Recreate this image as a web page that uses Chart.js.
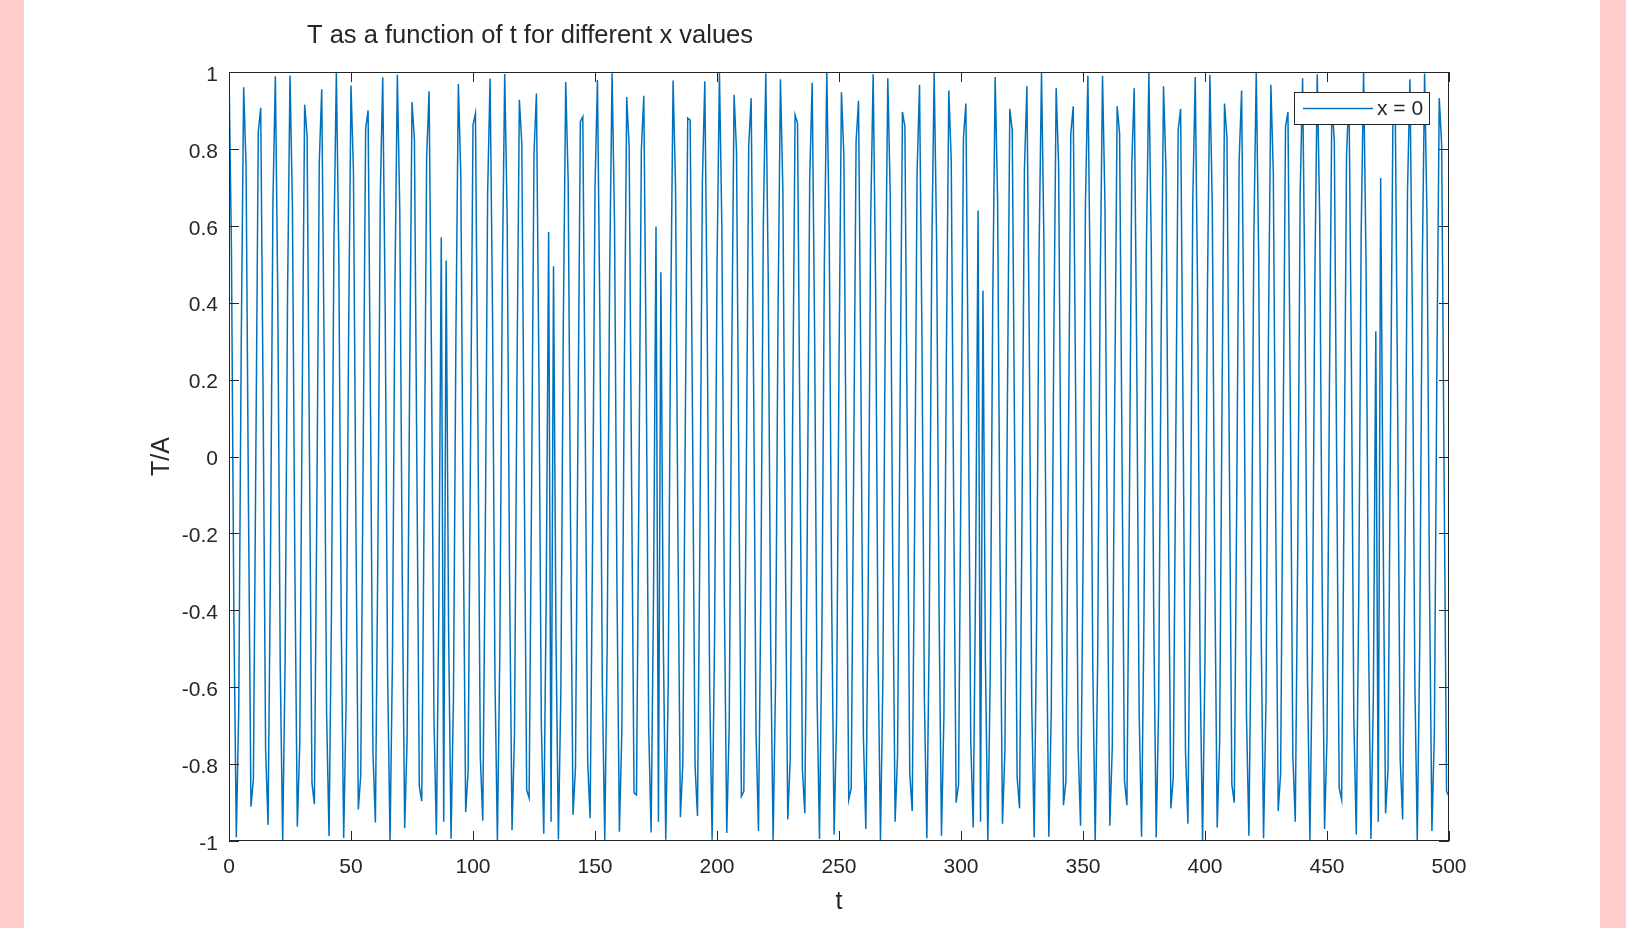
<!DOCTYPE html>
<html>
<head>
<meta charset="utf-8">
<title>T as a function of t for different x values</title>
<script src="https://cdn.jsdelivr.net/npm/chart.js@4"></script>
<style>
  html, body { margin: 0; padding: 0; }
  body { width: 1626px; height: 928px; background: #ffcccc; position: relative; overflow: hidden; }
  #sheet { position: absolute; left: 24px; top: 0; width: 1576px; height: 928px; background: #ffffff; }
  #waveChart { position: absolute; left: 0; top: 0; }
</style>
</head>
<body>
<div id="sheet"></div>
<canvas id="waveChart" width="1626" height="928"></canvas>
<script>
const FONT = '"Liberation Sans", Arial, sans-serif';
const INK = '#262626';

const chartTitle = 'T as a function of t for different x values';
const seriesLabel = 'x = 0';
const xTitle = 't';
const yTitle = 'T/A';

// samples are taken at t = 0, 1, 2, ... 500
const tStart = 0;
const tStep = 1;

const xTicks = [0, 50, 100, 150, 200, 250, 300, 350, 400, 450, 500];
const yTicks = [-1, -0.8, -0.6, -0.4, -0.2, 0, 0.2, 0.4, 0.6, 0.8, 1];
const yTickLabels = ['-1', '-0.8', '-0.6', '-0.4', '-0.2', '0', '0.2', '0.4', '0.6', '0.8', '1'];

// T/A at x = 0, one row per 22 samples
const tempRatio = [
  1, 0.540, -0.416, -0.990, -0.654, 0.284, 0.960, 0.754, -0.146, -0.911, -0.839, 0.004, 0.844, 0.907, 0.137, -0.760, -0.958, -0.275, 0.660, 0.989, 0.408, -0.548,
  -1, -0.533, 0.424, 0.991, 0.647, -0.292, -0.963, -0.748, 0.154, 0.915, 0.834, -0.013, -0.849, -0.904, -0.128, 0.765, 0.955, 0.267, -0.667, -0.987, -0.400, 0.555,
  1, 0.525, -0.432, -0.992, -0.640, 0.301, 0.965, 0.742, -0.163, -0.918, -0.829, 0.022, 0.853, 0.900, 0.119, -0.771, -0.952, -0.258, 0.674, 0.986, 0.392, -0.562,
  -1, -0.518, 0.440, 0.993, 0.633, -0.309, -0.967, -0.736, 0.172, 0.922, 0.824, -0.031, -0.858, -0.896, -0.110, 0.777, 0.950, 0.250, -0.680, -0.984, -0.384, 0.570,
  -0.95, 0.510, -0.448, -0.994, -0.626, 0.317, 0.969, 0.730, -0.180, -0.925, -0.819, 0.040, 0.862, 0.892, 0.102, -0.782, -0.947, -0.241, 0.686, 0.983, 0.376, -0.577,
  -0.999, -0.503, 0.456, 0.995, 0.620, -0.326, -0.972, -0.724, 0.189, 0.928, 0.814, -0.049, -0.867, -0.888, -0.093, 0.788, 0.944, 0.232, -0.693, -0.981, -0.367, 0.584,
  -0.95, 0.495, -0.464, -0.996, -0.613, 0.334, 0.974, 0.718, -0.198, -0.932, -0.809, 0.058, 0.871, 0.884, 0.084, -0.793, -0.941, -0.224, 0.699, 0.979, 0.359, -0.591,
  -0.998, -0.487, 0.472, 0.997, 0.606, -0.342, -0.976, -0.712, 0.206, 0.935, 0.804, -0.066, -0.875, -0.880, -0.075, 0.798, 0.938, 0.215, -0.706, -0.978, -0.351, 0.598,
  -0.95, 0.479, -0.479, -0.997, -0.598, 0.351, 0.978, 0.706, -0.215, -0.938, -0.798, 0.075, 0.880, 0.875, 0.066, -0.804, -0.935, -0.206, 0.712, 0.976, 0.342, -0.606,
  -0.997, -0.472, 0.487, 0.998, 0.591, -0.359, -0.979, -0.699, 0.224, 0.941, 0.793, -0.084, -0.884, -0.871, -0.058, 0.809, 0.932, 0.198, -0.718, -0.974, -0.334, 0.613,
  0.996, 0.464, -0.495, -0.999, -0.584, 0.367, 0.981, 0.693, -0.232, -0.944, -0.788, 0.093, 0.888, 0.867, 0.049, -0.814, -0.928, -0.189, 0.724, 0.972, 0.326, -0.620,
  -0.995, -0.456, 0.503, 0.999, 0.577, -0.376, -0.983, -0.686, 0.241, 0.947, 0.782, -0.102, -0.892, -0.862, -0.040, 0.819, 0.925, 0.180, -0.730, -0.969, -0.317, 0.626,
  0.994, 0.448, -0.510, -0.999, -0.570, 0.384, 0.984, 0.680, -0.250, -0.950, -0.777, 0.110, 0.896, 0.858, 0.031, -0.824, -0.922, -0.172, 0.736, 0.967, 0.309, -0.633,
  -0.993, -0.440, 0.518, 1, 0.562, -0.392, -0.986, -0.673, 0.258, 0.952, 0.771, -0.119, -0.900, -0.853, -0.022, 0.829, 0.918, 0.163, -0.742, -0.965, -0.301, 0.640,
  -0.95, 0.432, -0.525, -1, -0.555, 0.400, 0.987, 0.667, -0.267, -0.955, -0.765, 0.128, 0.904, 0.849, 0.013, -0.834, -0.915, -0.154, 0.748, 0.963, 0.292, -0.647,
  -0.991, -0.424, 0.533, 1, 0.548, -0.408, -0.989, -0.660, 0.275, 0.958, 0.760, -0.137, -0.907, -0.844, -0.004, 0.839, 0.911, 0.145, -0.754, -0.960, -0.284, 0.654,
  0.990, 0.416, -0.540,
  -1, -0.540, 0.416, 0.990, 0.654, -0.284, -0.960, -0.754, 0.146, 0.911, 0.839, -0.004, -0.844, -0.907, -0.137, 0.760, 0.958, 0.275, -0.660, -0.989, -0.408, 0.548,
  1, 0.533, -0.424, -0.991, -0.647, 0.292, 0.963, 0.748, -0.154, -0.915, -0.834, 0.013, 0.849, 0.904, 0.128, -0.765, -0.955, -0.267, 0.667, 0.987, 0.400, -0.555,
  -1, -0.525, 0.432, 0.992, 0.640, -0.301, -0.965, -0.742, 0.163, 0.918, 0.829, -0.022, -0.853, -0.900, -0.119, 0.771, 0.952, 0.258, -0.674, -0.986, -0.392, 0.562,
  1, 0.518, -0.440, -0.993, -0.633, 0.309, 0.967, 0.736, -0.172, -0.922, -0.824, 0.031, 0.858, 0.896, 0.110, -0.777, -0.950, -0.250, 0.680, 0.984, 0.384, -0.570,
  -0.999, -0.510, 0.448, 0.994, 0.626, -0.317, -0.969, -0.730, 0.180, 0.925, 0.819, -0.040, -0.862, -0.892, -0.102, 0.782, 0.947, 0.241, -0.686, -0.983, -0.376, 0.577,
  0.999, 0.503, -0.456, -0.995, -0.620, 0.326, -0.95, 0.724, -0.189, -0.928, -0.814, 0.049, 0.867, 0.888, 0.093, -0.788, -0.944, -0.232, 0.693, 0.981, 0.367, -0.584,
  -0.999, -0.495, 0.464, 0.996, 0.613, -0.334, -0.974, -0.718, 0.198, 0.932, 0.809, -0.058, -0.871, -0.884,
];

// MATLAB-like frame: box, inward ticks on all four sides, title and legend
const matlabFrame = {
  id: 'matlabFrame',
  afterDatasetsDraw(chart) {
    const { ctx, chartArea: a, scales: { x, y } } = chart;
    const ds = chart.data.datasets[0];
    ctx.save();
    ctx.strokeStyle = INK;
    ctx.lineWidth = 1;
    ctx.strokeRect(a.left + 0.5, a.top + 0.5, a.right - a.left - 1, a.bottom - a.top - 1);

    ctx.beginPath();
    xTicks.forEach(v => {
      const px = Math.round(x.getPixelForValue(v)) + 0.5;
      ctx.moveTo(px, a.bottom);
      ctx.lineTo(px, a.bottom - 10);
      ctx.moveTo(px, a.top);
      ctx.lineTo(px, a.top + 10);
    });
    yTicks.forEach(v => {
      const py = Math.round(y.getPixelForValue(v)) + 0.5;
      ctx.moveTo(a.left, py);
      ctx.lineTo(a.left + 10, py);
      ctx.moveTo(a.right, py);
      ctx.lineTo(a.right - 10, py);
    });
    ctx.stroke();

    // title
    ctx.fillStyle = INK;
    ctx.font = '25.5px ' + FONT;
    ctx.textAlign = 'left';
    ctx.textBaseline = 'alphabetic';
    ctx.fillText(chartTitle, 307, 43);

    // legend box
    ctx.fillStyle = '#ffffff';
    ctx.fillRect(1294, 92, 135, 32);
    ctx.strokeStyle = INK;
    ctx.lineWidth = 1;
    ctx.strokeRect(1294.5, 92.5, 135, 32);
    ctx.strokeStyle = ds.borderColor;
    ctx.lineWidth = ds.borderWidth;
    ctx.beginPath();
    ctx.moveTo(1303, 108.5);
    ctx.lineTo(1373, 108.5);
    ctx.stroke();
    ctx.fillStyle = INK;
    ctx.font = '21px ' + FONT;
    ctx.textBaseline = 'middle';
    ctx.fillText(ds.label, 1377, 109);
    ctx.restore();
  },
};

new Chart(document.getElementById('waveChart'), {
  type: 'line',
  data: {
    datasets: [
      {
        label: seriesLabel,
        data: tempRatio.map((v, i) => ({ x: tStart + i * tStep, y: v })),
        borderColor: '#0072bd',
        borderWidth: 1.5,
        pointRadius: 0,
        tension: 0,
        fill: false,
      },
    ],
  },
  options: {
    responsive: false,
    devicePixelRatio: 1,
    animation: false,
    events: [],
    layout: {
      padding: { left: 137, top: 72, right: 177, bottom: 0 },
    },
    plugins: {
      legend: { display: false },
      title: { display: false },
      tooltip: { enabled: false },
    },
    scales: {
      x: {
        type: 'linear',
        min: 0,
        max: 500,
        afterBuildTicks: (scale) => {
          scale.ticks = xTicks.map(v => ({ value: v }));
        },
        afterFit: (scale) => {
          scale.height = 87;
        },
        grid: { display: false, drawTicks: false },
        border: { display: false },
        ticks: {
          padding: 14,
          color: INK,
          maxRotation: 0,
          autoSkip: false,
          font: { family: FONT, size: 21 },
        },
        title: {
          display: true,
          text: xTitle,
          color: INK,
          font: { family: FONT, size: 25 },
          padding: { top: 0, bottom: 11 },
        },
      },
      y: {
        min: -1,
        max: 1,
        afterBuildTicks: (scale) => {
          scale.ticks = yTicks.map(v => ({ value: v }));
        },
        afterFit: (scale) => {
          scale.width = 92;
        },
        grid: { display: false, drawTicks: false },
        border: { display: false },
        ticks: {
          padding: 11,
          labelOffset: 3,
          color: INK,
          autoSkip: false,
          font: { family: FONT, size: 21 },
          callback: function (value, index) {
            return yTickLabels[index];
          },
        },
        title: {
          display: true,
          text: yTitle,
          color: INK,
          font: { family: FONT, size: 25 },
          padding: { top: 10, bottom: 0 },
        },
      },
    },
  },
  plugins: [matlabFrame],
});
</script>
</body>
</html>
